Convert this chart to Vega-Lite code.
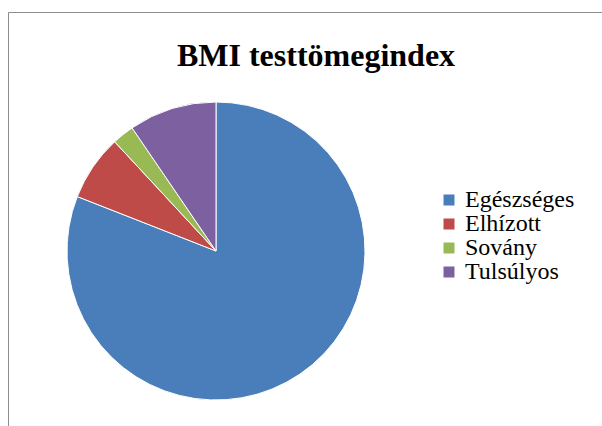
{
  "$schema": "https://vega.github.io/schema/vega-lite/v6.json",
  "width": 432,
  "height": 342,
  "autosize": {"type": "none"},
  "padding": {"left": 0, "top": 80, "right": 170, "bottom": 4},
  "background": "white",
  "title": {
    "text": "BMI testtömegindex",
    "font": "Liberation Serif, Times New Roman, DejaVu Serif, serif",
    "fontSize": 32,
    "fontWeight": "bold",
    "color": "#000000",
    "anchor": "middle",
    "frame": "group",
    "baseline": "alphabetic",
    "dx": 100,
    "offset": -86
  },
  "data": {
    "values": [
      {"category": "Egészséges", "value": 34},
      {"category": "Elhízott", "value": 3},
      {"category": "Sovány", "value": 1},
      {"category": "Tulsúlyos", "value": 4}
    ]
  },
  "mark": {"type": "arc", "radius": 149, "stroke": "#ffffff", "strokeWidth": 1},
  "encoding": {
    "theta": {"field": "value", "type": "quantitative", "stack": true},
    "color": {
      "field": "category",
      "type": "nominal",
      "scale": {
        "domain": ["Egészséges", "Elhízott", "Sovány", "Tulsúlyos"],
        "range": ["#4a7ebb", "#be4b48", "#98b954", "#7d60a0"]
      },
      "legend": {
        "orient": "none",
        "legendX": 8,
        "legendY": -68,
        "padding": 176,
        "title": " ",
        "titleOrient": "left",
        "titleFontSize": 1,
        "titlePadding": 253,
        "strokeColor": "#8c8c8c",
        "symbolType": "square",
        "symbolSize": 121,
        "symbolStrokeWidth": 0,
        "labelFont": "Liberation Serif",
        "labelFontSize": 24,
        "labelColor": "#000000",
        "labelOffset": 4,
        "rowPadding": 0,
        "labelLimit": 300,
        "encode": {
          "legend": {"update": {"strokeWidth": {"value": 1.5}}}
        }
      }
    }
  },
  "config": {
    "view": {"stroke": null}
  }
}
